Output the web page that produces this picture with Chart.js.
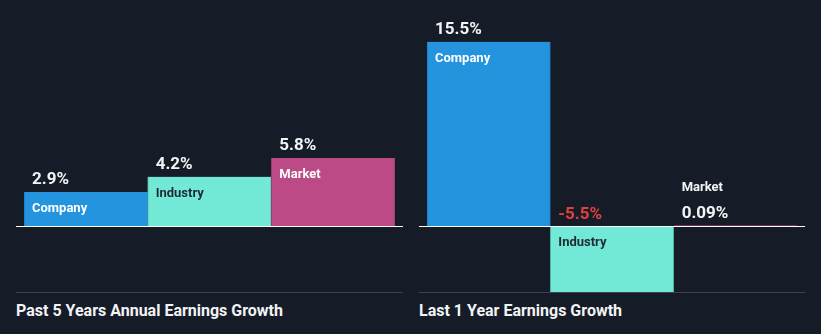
<!DOCTYPE html>
<html>
<head>
<meta charset="utf-8">
<script src="https://cdn.jsdelivr.net/npm/chart.js@4.4.0/dist/chart.umd.min.js"></script>
<style>
  body { margin: 0; background: #161c27; }
  #wrap { position: relative; width: 821px; height: 334px; background: #161c27; font-family: Roboto, sans-serif; }
  canvas { position: absolute; top: 0; }
  .rule { position: absolute; top: 292px; height: 0; border-top: 1px solid #3e434e; }
  .title { position: absolute; top: 301px; color: #f2f3f5; font: bold 16px Roboto, sans-serif; white-space: nowrap; }
</style>
</head>
<body>
<div id="wrap">
  <canvas id="fiveYear" width="387" height="292" style="left:16px"></canvas>
  <canvas id="oneYear" width="386" height="292" style="left:419px"></canvas>
  <div class="rule" style="left:16px;width:387px"></div>
  <div class="rule" style="left:419px;width:386px"></div>
  <div class="title" style="left:16px">Past 5 Years Annual Earnings Growth</div>
  <div class="title" style="left:419px">Last 1 Year Earnings Growth</div>
</div>
<script>
const categories = ['Company', 'Industry', 'Market'];
const fiveYearGrowth = [2.9, 4.2, 5.8];
const fiveYearLabels = ['2.9%', '4.2%', '5.8%'];
const oneYearGrowth = [15.5, -5.5, 0.09];
const oneYearLabels = ['15.5%', '-5.5%', '0.09%'];

const barColors = ['#2494df', '#71e9d6', '#bb4a86'];
const barEdges = ['#1f7cc0', '#4fb5a6', '#9c3b6f'];
const nameColors = ['#ffffff', '#1f2a35', '#ffffff'];

// zero line across the whole panel + bar captions
const labelPlugin = {
  id: 'barLabels',
  afterDatasetsDraw(chart, args, opts) {
    const ctx = chart.ctx;
    const zero = chart.scales.y.getPixelForValue(0);
    ctx.save();
    ctx.strokeStyle = '#ffffff';
    ctx.lineWidth = 1;
    ctx.beginPath();
    ctx.moveTo(0, Math.round(zero) + 0.5);
    ctx.lineTo(chart.width, Math.round(zero) + 0.5);
    ctx.stroke();

    const meta = chart.getDatasetMeta(0);
    const values = chart.data.datasets[0].data;
    meta.data.forEach((bar, i) => {
      const left = bar.x - bar.width / 2 + 8;
      const v = values[i];
      const h = Math.abs(bar.base - bar.y);
      ctx.textBaseline = 'alphabetic';
      ctx.textAlign = 'left';
      if (v < 0) {
        ctx.font = 'bold 17px Roboto';
        ctx.fillStyle = '#e0413f';
        ctx.fillText(opts.texts[i], left, bar.base - 7);
        ctx.font = 'bold 13px Roboto';
        ctx.fillStyle = nameColors[i];
        ctx.fillText(chart.data.labels[i], left, bar.base + 20);
      } else if (h < 30) {
        ctx.font = 'bold 13px Roboto';
        ctx.fillStyle = '#f2f3f5';
        ctx.fillText(chart.data.labels[i], left, bar.y - 34);
        ctx.font = 'bold 17px Roboto';
        ctx.fillText(opts.texts[i], left, bar.y - 7);
      } else {
        ctx.font = 'bold 17px Roboto';
        ctx.fillStyle = '#f2f3f5';
        ctx.fillText(opts.texts[i], left, bar.y - 8);
        ctx.font = 'bold 13px Roboto';
        ctx.fillStyle = nameColors[i];
        ctx.fillText(chart.data.labels[i], left, bar.y + 20);
      }
    });
    ctx.restore();
  }
};

function makeChart(id, values, texts, yMin, yMax, padLeft, padRight) {
  return new Chart(document.getElementById(id), {
    type: 'bar',
    data: {
      labels: categories,
      datasets: [{
        data: values,
        backgroundColor: barColors,
        borderColor: barEdges,
        borderWidth: { left: 1, right: 1, top: 0, bottom: 0 },
        borderSkipped: false,
        barPercentage: 1,
        categoryPercentage: 1
      }]
    },
    options: {
      responsive: false,
      animation: false,
      layout: { padding: { left: padLeft, right: padRight, top: 0, bottom: 0 } },
      scales: {
        x: { display: false },
        y: { display: false, min: yMin, max: yMax }
      },
      plugins: {
        legend: { display: false },
        tooltip: { enabled: false },
        barLabels: { texts: texts }
      }
    },
    plugins: [labelPlugin]
  });
}

makeChart('fiveYear', fiveYearGrowth, fiveYearLabels, -5.63, 19.28, 8, 8);
makeChart('oneYear', oneYearGrowth, oneYearLabels, -5.5, 19.0, 8, 8);
</script>
</body>
</html>
